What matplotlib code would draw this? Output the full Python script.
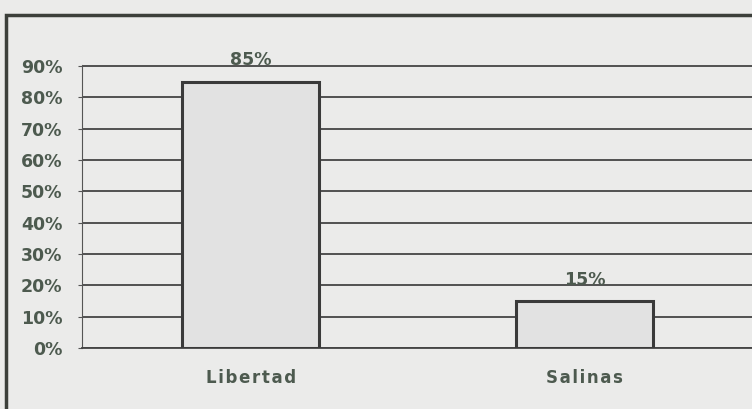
import numpy as np
import matplotlib.pyplot as plt
from matplotlib.patches import Rectangle

# datos
ciudades = ['Libertad', 'Salinas']
porcentajes = [0.85, 0.15]
ticks_y = [0, 0.1, 0.2, 0.3, 0.4, 0.5, 0.6, 0.7, 0.8, 0.9]

fondo = '#ebebea'
texto = '#4d5a4f'

fig = plt.figure(figsize=(7.52, 4.09), dpi=100, facecolor=fondo)
ax = fig.add_axes([0.109, 0.149, 0.893, 0.692])
ax.set_facecolor(fondo)

x = np.arange(len(ciudades))
barras = ax.bar(x, porcentajes, width=0.41, color='#e2e2e2',
                edgecolor='#3a3a3a', linewidth=2.2, zorder=3)

for b, v in zip(barras, porcentajes):
    ax.text(b.get_x() + b.get_width() / 2, v + 0.04, f'{v:.0%}',
            ha='center', va='bottom', fontsize=12.5, fontweight='bold', color=texto)

ax.set_xlim(-0.506, 1.506)
ax.set_ylim(0, 0.903)
ax.set_yticks(ticks_y)
ax.set_yticklabels([f'{t:.0%}' for t in ticks_y], fontsize=12.5,
                   fontweight='bold', color=texto)
ax.yaxis.grid(True, color='#444444', linewidth=1.3, zorder=0)
ax.set_xticks(x)
ax.set_xticklabels(['\u200a'.join(c) for c in ciudades], fontsize=12,
                   fontweight='bold', color=texto)
ax.tick_params(axis='x', length=0, pad=15)
ax.tick_params(axis='y', length=3, color='#555555', pad=11)

for lado in ['top', 'right']:
    ax.spines[lado].set_visible(False)
ax.spines['left'].set_color('#555555')
ax.spines['bottom'].set_color('#444444')
ax.spines['bottom'].set_linewidth(1.3)

# marco exterior
fig.patches.append(Rectangle((0.008, -0.05), 1.1, 1.013, transform=fig.transFigure,
                             fill=False, edgecolor='#3c3f3a', linewidth=2.5))

fig.savefig('out.png', dpi=100, facecolor=fondo)
